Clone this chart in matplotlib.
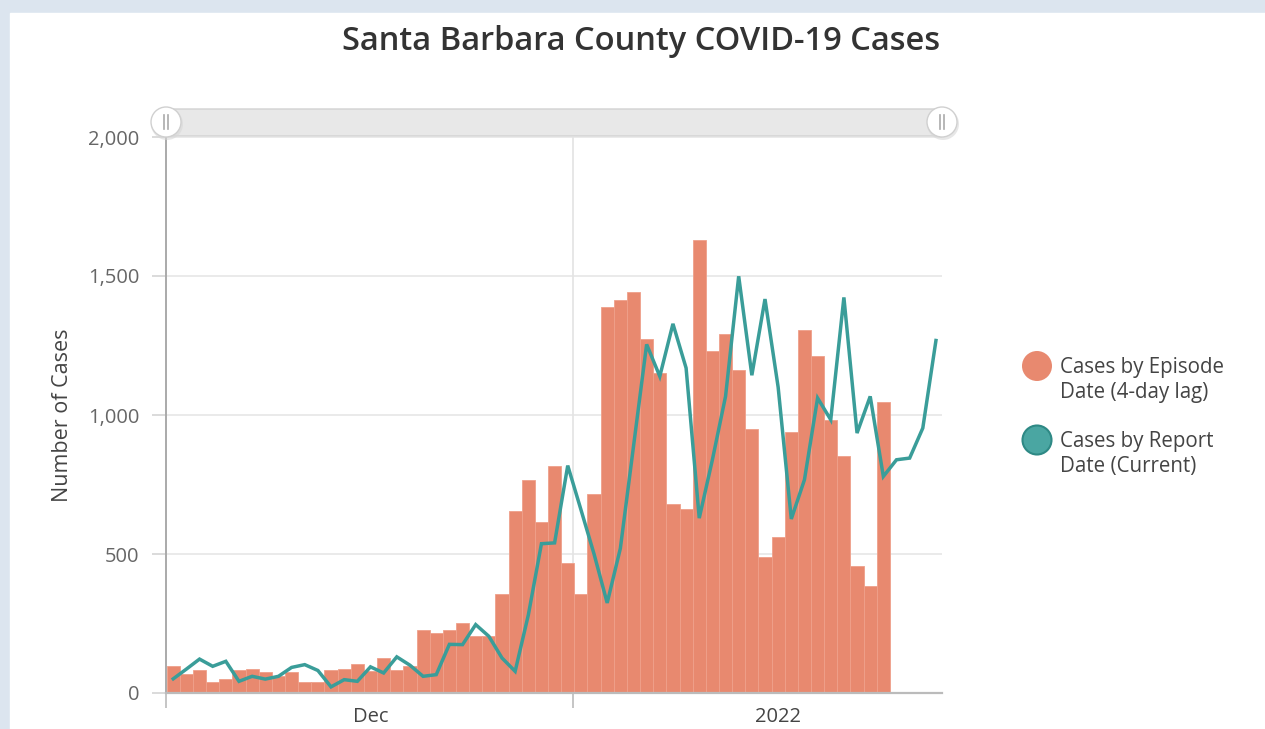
import numpy as np
import pandas as pd
import matplotlib
matplotlib.use("Agg")
import matplotlib.pyplot as plt
from matplotlib.patches import Rectangle, FancyBboxPatch, Circle

plt.rcParams['font.family'] = ['Open Sans', 'DejaVu Sans']

# ---------------- data ----------------
start_date = "2021-11-16"
episode_cases = [97, 68, 81, 39, 50, 81, 88, 76, 60, 77, 38, 40, 81, 88, 104, 78,
                 126, 81, 98, 228, 216, 228, 252, 204, 206, 355, 656, 765, 614,
                 818, 468, 355, 716, 1387, 1415, 1442, 1273, 1151, 681, 662, 1631,
                 1232, 1291, 1163, 951, 491, 561, 939, 1307, 1211, 981, 851, 458,
                 386, 1047]
report_cases = [51, 86, 122, 96, 114, 42, 60, 50, 60, 92, 102, 81, 22, 48, 42, 94,
                72, 130, 100, 60, 66, 175, 174, 246, 204, 126, 78, 280, 537, 540,
                818, 660, 500, 324, 520, 887, 1254, 1139, 1328, 1169, 629, 839,
                1067, 1499, 1143, 1417, 1100, 626, 767, 1061, 983, 1423, 935, 1067,
                779, 839, 845, 953, 1268]
y_ticks = [0, 500, 1000, 1500, 2000]
y_tick_labels = ["0", "500", "1,000", "1,500", "2,000"]
x_label_dates = ["2021-12-01", "2022-01-01"]
x_label_texts = ["Dec", "2022"]
title = "Santa Barbara County COVID-19 Cases"
ylabel = "Number of Cases"
legend_labels = ["Cases by Episode\nDate (4-day lag)", "Cases by Report\nDate (Current)"]

# ---------------- styling ----------------
BAR_C = "#E8896F"
BAR_EDGE = "#EFA08A"
LINE_C = "#3A9D99"
TEXT_C = "#444444"
TICK_C = "#666666"

W, H = 1265, 729
fig = plt.figure(figsize=(W / 100, H / 100), dpi=100)

# background overlay (pixel coordinates)
bg = fig.add_axes([0, 0, 1, 1], zorder=0)
bg.set_xlim(0, W)
bg.set_ylim(H, 0)
bg.axis("off")
bg.add_patch(Rectangle((0, 0), W, H, color="#DCE5EF", zorder=0))
bg.add_patch(Rectangle((10, 13), W - 10, H - 13, color="white", zorder=1))

# slider track
bg.add_patch(FancyBboxPatch((166, 109), 776, 27, boxstyle="round,pad=0,rounding_size=6",
                            facecolor="#E8E8E8", edgecolor="#D2D2D2", lw=1, zorder=2))

# main axes
x0, x1, y0, y1 = 166, 942, 137, 693
ax = fig.add_axes([x0 / W, 1 - y1 / H, (x1 - x0) / W, (y1 - y0) / H], zorder=1)
ax.set_facecolor("none")

dates_bar = pd.date_range(start_date, periods=len(episode_cases), freq="D")
dates_line = pd.date_range(start_date, periods=len(report_cases), freq="D")
day = pd.Timedelta(days=1)

ax.bar(dates_bar, episode_cases, width=1.0, color=BAR_C, edgecolor=BAR_EDGE,
       linewidth=0.6, zorder=2)
ax.plot(dates_line, report_cases, color=LINE_C, lw=2.5, zorder=3,
        solid_joinstyle="miter")

ax.set_ylim(0, 2000)
ax.set_xlim(dates_bar[0] - 0.55 * day, dates_bar[0] + 58.46 * day)

ax.set_yticks(y_ticks)
ax.set_yticklabels(y_tick_labels, fontsize=14.5, color=TICK_C)
ax.tick_params(axis="y", length=10, width=1.2, color="#D4D4D4", pad=9)
for yv in y_ticks[1:]:
    ax.axhline(yv, color="#E6E6E6", lw=1.2, zorder=0)

# vertical gridline / tick
grid_x = dates_bar[0] + 30.37 * day
ax.axvline(grid_x, color="#E3E3E3", lw=1.2, zorder=0)
ax.set_xticks([ax.get_xlim()[0], matplotlib.dates.date2num(grid_x)])
ax.set_xticklabels(["", ""])
ax.tick_params(axis="x", which="major", length=11, width=1.2, color="#BBBBBB")
ax.set_xticks([matplotlib.dates.date2num(pd.Timestamp(d)) for d in x_label_dates], minor=True)
ax.set_xticklabels(x_label_texts, minor=True, fontsize=14.5, color=TEXT_C)
ax.tick_params(axis="x", which="minor", length=0, pad=10)

for s in ["top", "right"]:
    ax.spines[s].set_visible(False)
ax.spines["left"].set_color("#AAAAAA")
ax.spines["left"].set_linewidth(1.4)
ax.spines["bottom"].set_color("#BBBBBB")
ax.spines["bottom"].set_linewidth(1.6)

# top overlay for handles, titles, legend
ov = fig.add_axes([0, 0, 1, 1], zorder=2)
ov.set_xlim(0, W)
ov.set_ylim(H, 0)
ov.axis("off")
ov.set_facecolor("none")
for hx in (166, 942):
    ov.add_patch(Circle((hx + 1, 124), 16, facecolor="#D8D8D8", edgecolor="none", alpha=0.6))
    ov.add_patch(Circle((hx, 122), 15, facecolor="white", edgecolor="#D0D0D0", lw=1))
    ov.plot([hx - 2, hx - 2], [115, 129], color="#AAAAAA", lw=1.2)
    ov.plot([hx + 2, hx + 2], [115, 129], color="#AAAAAA", lw=1.2)

ov.text(641, 50, title, ha="center", va="baseline", fontsize=23.5,
        fontweight="semibold", color="#333333")
ov.text(62, 415, ylabel, ha="center", va="center", rotation=90, fontsize=15.5, color=TEXT_C)

# legend
ov.add_patch(Circle((1037, 366), 15, facecolor=BAR_C, edgecolor="none"))
ov.add_patch(Circle((1037, 440), 14.5, facecolor="#4AA6A2", edgecolor="#2E8985", lw=1.5))
ov.text(1060, 380, legend_labels[0], ha="left", va="center", fontsize=14.8,
        color=TEXT_C, linespacing=1.25)
ov.text(1060, 454, legend_labels[1], ha="left", va="center", fontsize=14.8,
        color=TEXT_C, linespacing=1.25)

fig.savefig("out.png", dpi=100)
